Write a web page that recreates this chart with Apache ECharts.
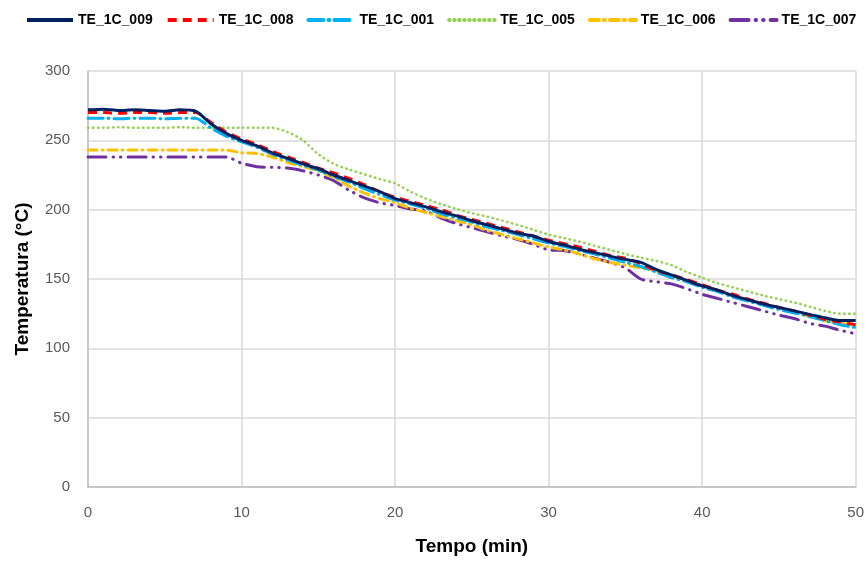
<!DOCTYPE html>
<html><head><meta charset="utf-8">
<script src="https://cdn.jsdelivr.net/npm/echarts@6/dist/echarts.min.js"></script>
<style>html,body{margin:0;padding:0;background:#fff}#c{width:867px;height:561px}</style>
</head><body><div id="c"></div>
<script>
const minutes = [0,1,2,3,4,5,6,7,8,9,10,11,12,13,14,15,16,17,18,19,20,21,22,23,24,25,26,27,28,29,30,31,32,33,34,35,36,37,38,39,40,41,42,43,44,45,46,47,48,49,50];
const seriesNames = ['TE_1C_009','TE_1C_008','TE_1C_001','TE_1C_005','TE_1C_006','TE_1C_007'];
const te009 = [272,272.5,271.5,272,271.5,271,272,271,262,255,250,246,241,237,233,229.5,225,221,217,213,208,205,202,198.5,195.5,192,189,186,183,181,177,174.5,171.5,169,166.5,164,162,157,153,149,145,142,138,135,132,129.5,127,124.5,122,120,120];
const te008 = [270,270,269.5,270,270,269.5,270,270,263,256,251,247,242,238,234,230,226.5,222.5,218,213,209,206,203,200,196,193,190,187,184,181,178,175.5,173,170,167,165,161,156,153,149.5,146,142,139,135.5,132.5,129.5,127,124,121,119,117];
const te001 = [266,266,265.5,266,266,265.5,266,266,259,253,249,245,240,236,232,228.5,224,220,215,211,207,204,201,197,194,191,187.5,185,182,179,176,173.5,170.5,168,165,162,159,155,151,148,144,141,137,134,131,128,125.5,123,120,117,115];
const te005 = [259,259,259.5,259,259,259,259.5,259,259,259,259,259,259,256,250,240,233,229,225.5,222,219,213,208,204,200.5,197.5,195,192,189,185.5,182,179.5,177,174,171,168,165.5,163,160,155,151,147,144,141,138,135.5,133,130,127,125,125];
const te006 = [243,243,243,243,243,243,243,243,243,243,241,240.5,238,234,231,228,223,217,212,208,205,201,198,195,192,189,185,182,179,176,173,171,168,164.5,162,160,158,156,152,149,145,142,138,135,132,129,126,123,120,118,117];
const te007 = [238,238,238,238,238,238,238,238,238,238,233.5,231,230.5,230,228,225,221,214,208.5,205,203,200.5,199,194,190,187,184,181,178.5,175,171,170.5,168,165,162,158,150,148,146.5,143,139,136,133,130,127,124,121.5,118,116,113,110.5];
const xTicks = [0,10,20,30,40,50];
const yTicks = [0,50,100,150,200,250,300];

const values = [te009, te008, te001, te005, te006, te007];
const colors = ['#002060','#FF0000','#00B0F0','#92D050','#FFC000','#7030A0'];
const dashes = ['solid',[9,6],[15,5,1,5],[0.5,4.5],[9,5,1,5],[18,7,0.5,7,0.5,7]];
const widths = [3,3,3,2.5,3,3];
const caps = ['butt','butt','round','round','round','round'];

const chart = echarts.init(document.getElementById('c'));
chart.setOption({
  animation:false,
  backgroundColor:'#fff',
  legend:{
    top:8, left:20, itemWidth:46, itemHeight:10, itemGap:13,
    itemStyle:{opacity:0},
    lineStyle:{width:4},
    textStyle:{fontFamily:'Liberation Sans',fontWeight:'bold',fontSize:14,color:'#000'},
    data:seriesNames
  },
  grid:{left:88,right:11,top:71,bottom:73},
  xAxis:{
    type:'value',min:xTicks[0],max:xTicks[xTicks.length-1],interval:10,
    name:'Tempo (min)',nameLocation:'middle',nameGap:50,
    nameTextStyle:{fontFamily:'Liberation Sans',fontWeight:'bold',fontSize:19,color:'#000'},
    axisLine:{lineStyle:{color:'#BFBFBF',width:1.5}},
    axisTick:{show:false},
    axisLabel:{color:'#595959',fontSize:15,fontFamily:'Liberation Sans',margin:18},
    splitLine:{show:true,lineStyle:{color:'#D9D9D9',width:1.5}}
  },
  yAxis:{
    type:'value',min:yTicks[0],max:yTicks[yTicks.length-1],interval:50,
    name:'Temperatura (°C)',nameLocation:'middle',nameGap:56,
    nameTextStyle:{fontFamily:'Liberation Sans',fontWeight:'bold',fontSize:19,color:'#000'},
    axisLine:{show:true,lineStyle:{color:'#BFBFBF',width:1.5}},
    axisTick:{show:false},
    axisLabel:{color:'#595959',fontSize:15,fontFamily:'Liberation Sans',margin:18},
    splitLine:{show:true,lineStyle:{color:'#D9D9D9',width:1.5}}
  },
  series: seriesNames.map((n,i)=>({
    name:n,type:'line',showSymbol:false,symbol:'none',smooth:0.25,
    data:minutes.map((m,j)=>[m,values[i][j]]),
    lineStyle:{color:colors[i],width:widths[i],type:dashes[i],cap:caps[i]},
    itemStyle:{color:colors[i]},
    z: 10-i
  }))
});
</script></body></html>
